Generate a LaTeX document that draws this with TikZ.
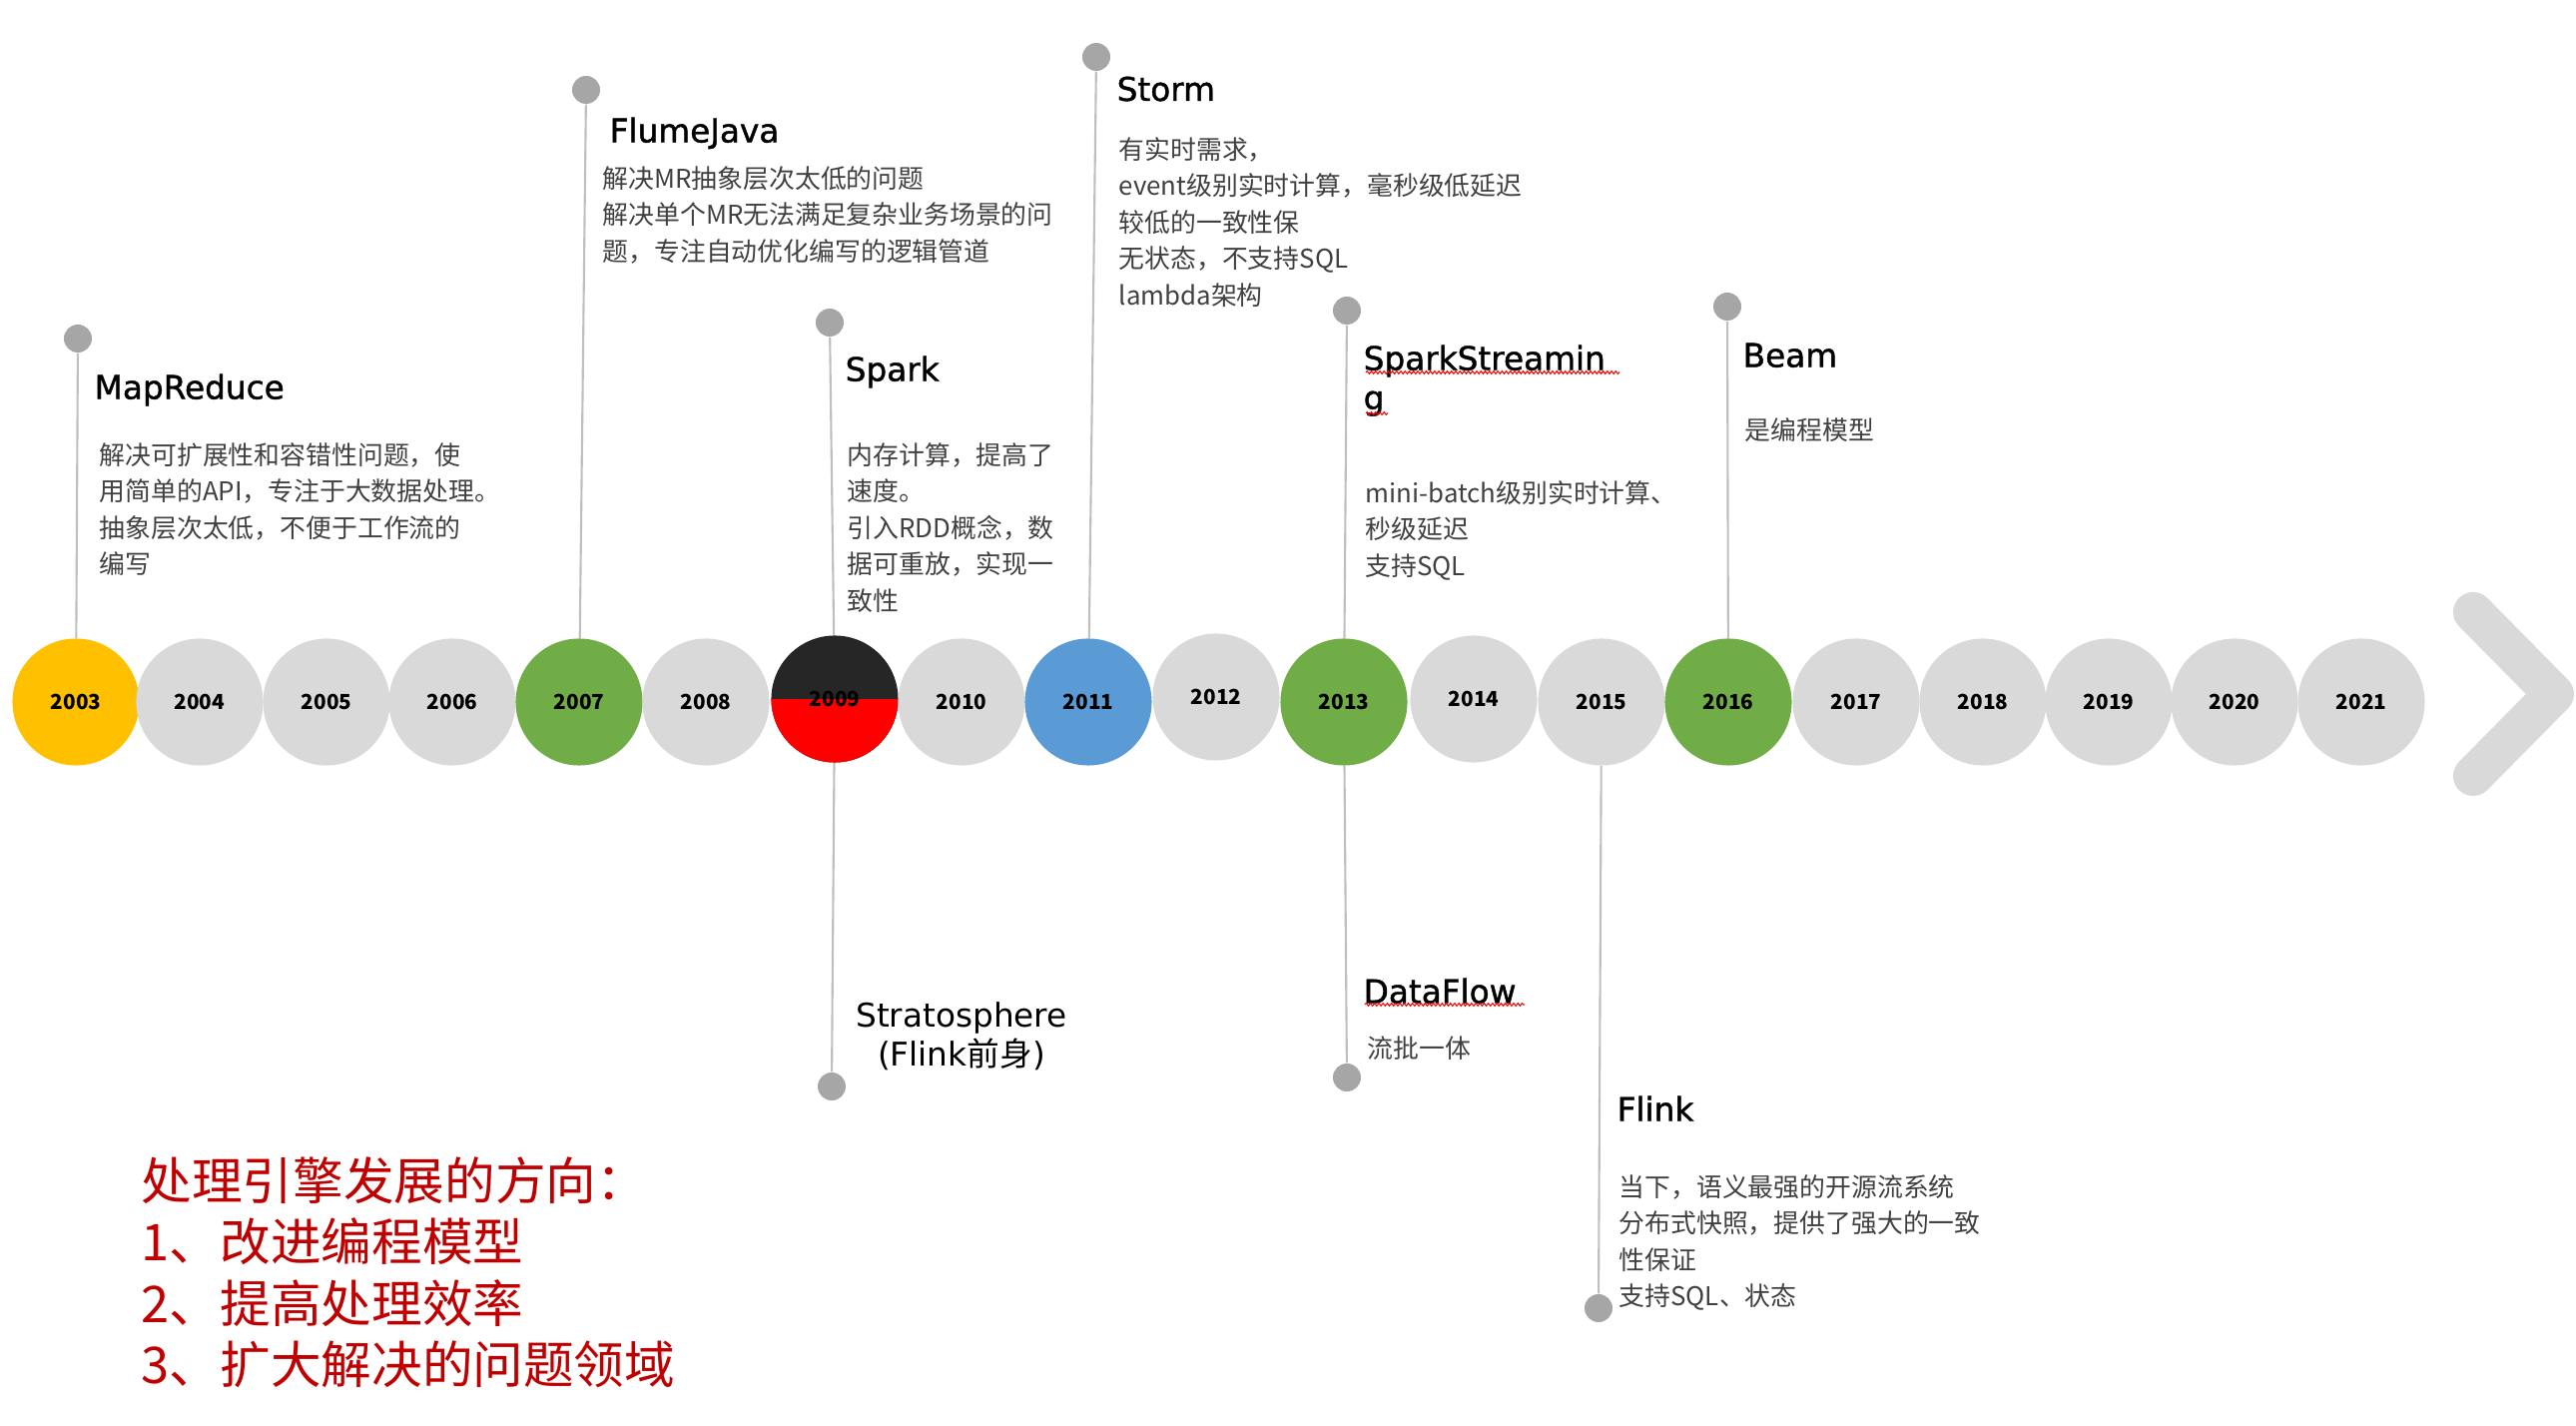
\documentclass[tikz,border=0pt]{standalone}
\usepackage{fontspec}
\setmainfont{Noto Sans CJK SC}
\newfontfamily\titlefont{DejaVu Sans}
\newfontfamily\headfont{DejaVu Sans}[FakeBold=1.2]
\newfontfamily\cjkfont{Noto Sans CJK SC}
\usetikzlibrary{decorations.pathmorphing}
\definecolor{yeargray}{HTML}{D9D9D9}
\definecolor{gold}{HTML}{FFC000}
\definecolor{leaf}{HTML}{70AD47}
\definecolor{sky}{HTML}{5B9BD5}
\definecolor{splitblack}{HTML}{262626}
\definecolor{splitred}{HTML}{FF0000}
\definecolor{pingray}{HTML}{A6A6A6}
\definecolor{stemgray}{HTML}{BFBFBF}
\definecolor{bodytext}{HTML}{404040}
\definecolor{aimred}{HTML}{C00000}
\tikzset{
  year/.style={circle,minimum size=1.27cm,inner sep=0pt,fill=yeargray,font=\fontsize{5.9}{7}\selectfont\bfseries},
  yrgold/.style={year,fill=gold},
  yrgreen/.style={year,fill=leaf},
  yrblue/.style={year,fill=sky},
  yrsplit/.style={year,fill=splitblack,path picture={\fill[splitred] (path picture bounding box.west) rectangle (path picture bounding box.south east);}},
  pin/.style={circle,minimum size=0.28cm,inner sep=0pt,fill=pingray},
  stem/.style={draw=stemgray,line width=0.6pt},
  head/.style={font=\headfont\fontsize{9.3}{11.2}\selectfont,anchor=north west,inner sep=0pt,align=left},
  plainhead/.style={head,font=\titlefont\fontsize{9.3}{11.2}\selectfont},
  body/.style={font=\fontsize{7.35}{10.35}\selectfont,text=bodytext,anchor=north west,inner sep=0pt,align=left},
  aim/.style={font=\fontsize{14.4}{17.45}\selectfont,text=aimred,anchor=north west,inner sep=0pt,align=left},
  squiggle/.style={draw=red,line width=0.3pt,decorate,decoration={snake,amplitude=0.4pt,segment length=1.2pt}},
  chevron/.style={draw=yeargray,line width=0.4cm,line cap=round,line join=round}
}
\begin{document}
\begin{tikzpicture}[x=0.01cm,y=-0.01cm]
\useasboundingbox (0,0) rectangle (2580,1428);

\foreach \yr/\x/\y/\kind in {2003/76/703/yrgold,2004/200/703/year,2005/327/703/year,2006/453/703/year,
  2007/580/703/yrgreen,2008/707/703/year,2009/836/700/yrsplit,2010/963/703/year,2011/1090/703/yrblue,
  2012/1218/698/year,2013/1346/703/yrgreen,2014/1476/700/year,2015/1604/703/year,2016/1731/703/yrgreen,
  2017/1859/703/year,2018/1986/703/year,2019/2112/703/year,2020/2238/703/year,2021/2365/703/year}
  \node[\kind] (y\yr) at (\x,\y) {\yr};

\draw[chevron] (2477,613) -- (2558,695) -- (2477,777);

\node[pin] (pMapReduce) at (78,339) {};
\node[pin] (pFlumeJava) at (587,90) {};
\node[pin] (pSpark) at (831,323) {};
\node[pin] (pStorm) at (1098,57) {};
\node[pin] (pStreaming) at (1349,311) {};
\node[pin] (pBeam) at (1730,307) {};
\node[pin] (pStrato) at (833,1088) {};
\node[pin] (pDataFlow) at (1349,1079) {};
\node[pin] (pFlink) at (1601,1310) {};

\node[head] (tMapReduce) at (94,374) {MapReduce};
\node[body] (bMapReduce) at (99,443) {解决可扩展性和容错性问题，使\\用简单的API，专注于大数据处理。\\抽象层次太低，不便于工作流的\\编写};
\node[head] (tFlumeJava) at (610,117) {FlumeJava};
\node[body] (bFlumeJava) at (603,166) {解决MR抽象层次太低的问题\\解决单个MR无法满足复杂业务场景的问\\题，专注自动优化编写的逻辑管道};
\node[head] (tSpark) at (846,356) {Spark};
\node[body] (bSpark) at (848,443) {内存计算，提高了\\速度。\\引入RDD概念，数\\据可重放，实现一\\致性};
\node[head] (tStorm) at (1118,76) {Storm};
\node[body] (bStorm) at (1120,137) {有实时需求，\\event级别实时计算，毫秒级低延迟\\较低的一致性保\\无状态，不支持SQL\\lambda架构};
\node[head] (tStreaming) at (1365,345) {SparkStreamin\\g};
\node[body] (bStreaming) at (1367,481) {mini-batch级别实时计算、\\秒级延迟\\支持SQL};
\node[head] (tBeam) at (1745,343) {Beam};
\node[body] (bBeam) at (1747,418) {是编程模型};
\node[plainhead,anchor=north,align=center] (tStrato) at (963,1003) {Stratosphere\\(Flink{\cjkfont 前身})};
\node[head] (tDataFlow) at (1365,979) {DataFlow};
\node[body] (bDataFlow) at (1369,1037) {流批一体};
\node[head] (tFlink) at (1619,1097) {Flink};
\node[body] (bFlink) at (1621,1176) {当下，语义最强的开源流系统\\分布式快照，提供了强大的一致\\性保证\\支持SQL、状态};
\node[aim] (aims) at (141,1158) {处理引擎发展的方向：\\1、改进编程模型\\2、提高处理效率\\3、扩大解决的问题领域};

\draw[stem] (pMapReduce) -- (y2003);
\draw[stem] (pFlumeJava) -- (y2007);
\draw[stem] (pSpark) -- (y2009);
\draw[stem] (pStorm) -- (y2011);
\draw[stem] (pStreaming) -- (y2013);
\draw[stem] (pBeam) -- (y2016);
\draw[stem] (y2009) -- (pStrato);
\draw[stem] (y2013) -- (pDataFlow);
\draw[stem] (y2015) -- (pFlink);

\draw[squiggle] (1368,373) -- (1622,373);
\draw[squiggle] (1368,414) -- (1390,414);
\draw[squiggle] (1367,1006) -- (1527,1006);
\end{tikzpicture}
\end{document}
